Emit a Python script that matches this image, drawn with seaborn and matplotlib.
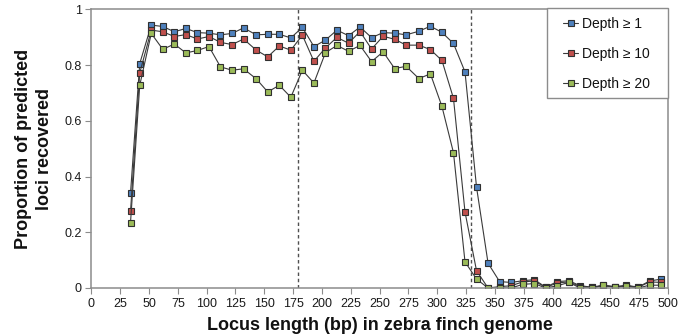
import matplotlib
matplotlib.use("Agg")
import matplotlib.pyplot as plt
from matplotlib.lines import Line2D
from matplotlib.patches import Rectangle
import seaborn as sns
import pandas as pd

# ---- data ----
locus_length = [34, 42, 52, 62, 72, 82, 92, 102, 112, 122, 132, 143, 153, 163, 173,
                183, 193, 203, 213, 223, 233, 243, 253, 263, 273, 284, 294, 304, 314, 324,
                334, 344, 354, 364, 374, 384, 394, 404, 414, 424, 434, 444, 454, 464, 474,
                484, 494]
depth1 = [0.341, 0.806, 0.944, 0.939, 0.920, 0.932, 0.917, 0.915, 0.909, 0.914, 0.934,
          0.909, 0.911, 0.911, 0.898, 0.936, 0.867, 0.890, 0.926, 0.906, 0.937, 0.899,
          0.917, 0.915, 0.909, 0.922, 0.940, 0.918, 0.878, 0.776, 0.362, 0.089, 0.023,
          0.020, 0.026, 0.030, 0.003, 0.023, 0.026, 0.008, 0.003, 0.010, 0.005, 0.010,
          0.003, 0.025, 0.032]
depth10 = [0.275, 0.772, 0.926, 0.920, 0.903, 0.910, 0.894, 0.903, 0.882, 0.874, 0.894,
           0.854, 0.830, 0.869, 0.854, 0.908, 0.814, 0.862, 0.900, 0.879, 0.921, 0.858,
           0.904, 0.893, 0.872, 0.872, 0.856, 0.817, 0.681, 0.273, 0.062, 0.000, 0.005,
           0.008, 0.022, 0.025, 0.002, 0.018, 0.022, 0.005, 0.002, 0.008, 0.003, 0.008,
           0.002, 0.022, 0.020]
depth20 = [0.235, 0.728, 0.914, 0.857, 0.876, 0.844, 0.853, 0.867, 0.794, 0.782, 0.787,
           0.751, 0.704, 0.728, 0.685, 0.782, 0.736, 0.845, 0.871, 0.850, 0.871, 0.813,
           0.848, 0.788, 0.796, 0.752, 0.769, 0.652, 0.486, 0.094, 0.032, 0.000, 0.000,
           0.000, 0.013, 0.016, 0.000, 0.008, 0.020, 0.000, 0.000, 0.010, 0.003, 0.006,
           0.000, 0.010, 0.010]
series_names = ["Depth \u2265 1", "Depth \u2265 10", "Depth \u2265 20"]
colors = ["#4F81BD", "#C0504D", "#9BBB59"]
x_ticks = list(range(0, 501, 25))
y_ticks = [0, 0.2, 0.4, 0.6, 0.8, 1]
y_tick_labels = ["0", "0.2", "0.4", "0.6", "0.8", "1"]
cutoffs = [179, 329]

df = pd.concat([
    pd.DataFrame({"length": locus_length, "prop": vals, "series": name})
    for name, vals in zip(series_names, [depth1, depth10, depth20])
], ignore_index=True)

sns.set_theme(style="white")
plt.rcParams["font.family"] = ["Liberation Sans", "DejaVu Sans"]

W, H = 683, 336
fig = plt.figure(figsize=(W / 100, H / 100), dpi=100)
ax = fig.add_axes([91.3 / W, 1 - 288 / H, (668 - 91.3) / W, (288 - 9.5) / H])

line_col = "#3a3a3a"
msize = 4.9
for name, c in zip(series_names, colors):
    sub = df[df["series"] == name]
    sns.lineplot(data=sub, x="length", y="prop", ax=ax, color=line_col, lw=0.8,
                 marker="s", markersize=msize, markerfacecolor=c,
                 markeredgecolor="#303030", markeredgewidth=0.8,
                 estimator=None, sort=False, legend=False)

for cx in cutoffs:
    ax.axvline(cx, color="#505050", lw=1.0, ls=(0, (2.5, 2)), zorder=0.5)

ax.set_xlim(0, 500)
ax.set_ylim(0, 1)
ax.set_xticks(x_ticks)
ax.set_xticklabels([str(t) for t in x_ticks])
ax.set_yticks(y_ticks)
ax.set_yticklabels(y_tick_labels)
ax.tick_params(axis="both", which="major", labelsize=9, colors="#8c8c8c",
               labelcolor="#1a1a1a", length=4, width=0.8, direction="out",
               bottom=True, left=True, pad=3)
for s in ax.spines.values():
    s.set_color("#8c8c8c")
    s.set_linewidth(1.1)

ax.set_xlabel("Locus length (bp) in zebra finch genome", fontsize=13,
              fontweight="bold", color="#111111", labelpad=5)
ax.set_ylabel("Proportion of predicted\nloci recovered", fontsize=13,
              fontweight="bold", color="#111111", labelpad=8, linespacing=1.3)

# legend box (frame drawn separately to match the reference size)
box = Rectangle((547 / W, 1 - 98 / H), (668 - 547) / W, (98 - 8) / H,
                transform=fig.transFigure, facecolor="white", edgecolor="#8c8c8c",
                lw=1.0, zorder=5)
fig.patches.append(box)

handles = [Line2D([0], [0], color=line_col, lw=0.8, marker="s", markersize=msize,
                  markerfacecolor=c, markeredgecolor="#303030", markeredgewidth=0.8)
           for c in colors]
leg = fig.legend(handles, series_names, loc="center left",
                 bbox_to_anchor=(563 / W, 1 - 54 / H), bbox_transform=fig.transFigure,
                 borderaxespad=0, borderpad=0, fontsize=10, frameon=False,
                 handlelength=1.1, handletextpad=0.25, labelspacing=1.15)
leg.set_zorder(6)
for t in leg.get_texts():
    t.set_color("#111111")

fig.savefig("out.png", dpi=100)
